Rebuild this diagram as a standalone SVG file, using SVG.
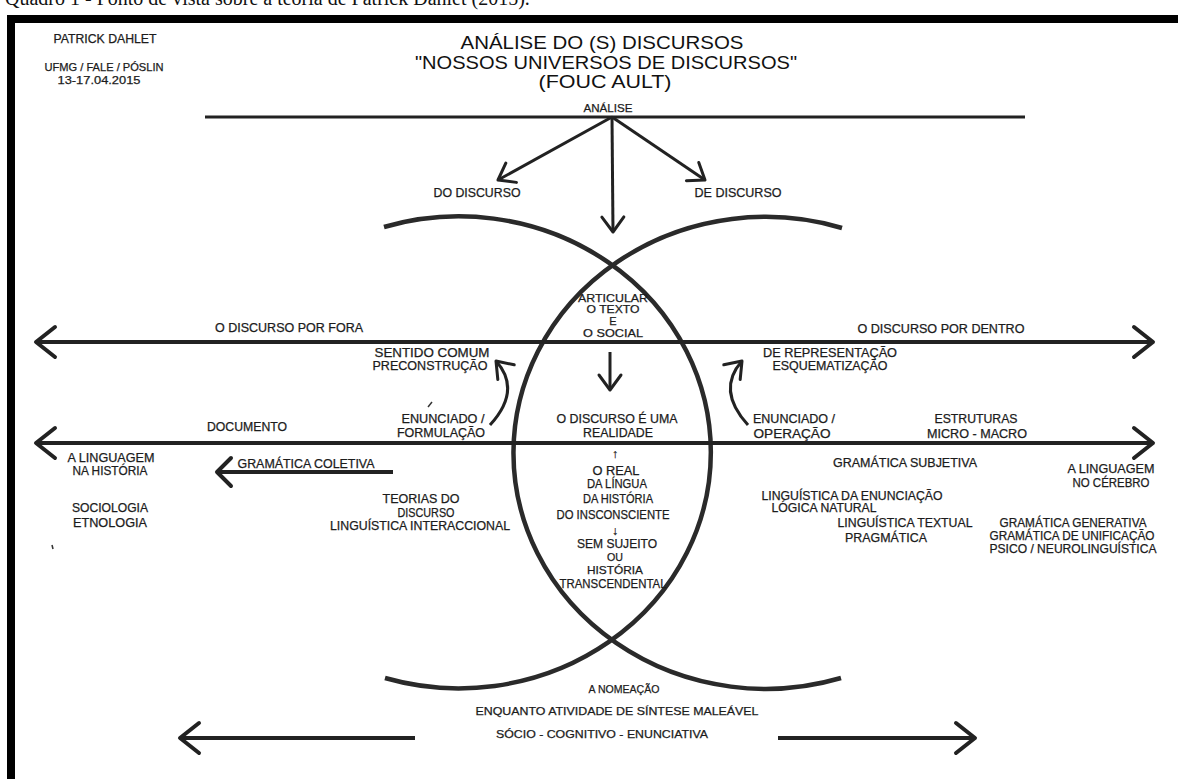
<svg xmlns="http://www.w3.org/2000/svg" width="1178" height="779" viewBox="0 0 1178 779">
<style>
  .t { font-family: "Liberation Sans", Arial, sans-serif; font-size: 12px; fill: #1c1c1c; stroke: #1c1c1c; stroke-width: 0.25; text-anchor: middle; }
  .s { font-size: 11px; }
  .title { font-family: "Liberation Sans", Arial, sans-serif; font-size: 19px; fill: #111; text-anchor: middle; }
  .cap { font-family: "Liberation Serif", "Times New Roman", serif; font-size: 20px; fill: #111; }
  .ln { stroke: #222; fill: none; stroke-width: 4; }
  .thin { stroke: #222; fill: none; stroke-width: 3; }
  .arc { stroke: #2a2a2a; fill: none; stroke-width: 4.5; }
  .mk { stroke: #222; fill: none; stroke-linecap: round; stroke-linejoin: round; }
</style>
<defs>
  <marker id="ah" markerUnits="userSpaceOnUse" viewBox="-22 -18 26 36" refX="0" refY="0" markerWidth="26" markerHeight="36" orient="auto-start-reverse" overflow="visible">
    <path class="mk" d="M-19,-15 L0,0 L-19,15" stroke-width="4"/>
  </marker>
  <marker id="ahm" markerUnits="userSpaceOnUse" viewBox="-18 -18 22 36" refX="0" refY="0" markerWidth="22" markerHeight="36" orient="auto-start-reverse" overflow="visible">
    <path class="mk" d="M-14,-14 L0,0 L-14,14" stroke-width="4"/>
  </marker>
  <marker id="ahs" markerUnits="userSpaceOnUse" viewBox="-18 -14 22 28" refX="0" refY="0" markerWidth="22" markerHeight="28" orient="auto" overflow="visible">
    <path class="mk" d="M-15,-11 L0,0 L-15,11" stroke-width="3"/>
  </marker>
</defs>
<rect x="0" y="0" width="1178" height="779" fill="#fff"/>
<text class="cap" x="5" y="5">Quadro 1 - Ponto de vista sobre a teoria de Patrick Dahlet (2015).</text>
<rect x="11" y="19" width="1200" height="800" fill="none" stroke="#000" stroke-width="8"/>

<g id="header">
  <text class="t" x="105" y="43" textLength="103" lengthAdjust="spacingAndGlyphs">PATRICK DAHLET</text>
  <text class="t s" x="104" y="71" textLength="119" lengthAdjust="spacingAndGlyphs">UFMG / FALE / PÓSLIN</text>
  <text class="t s" x="99" y="84" textLength="83" lengthAdjust="spacingAndGlyphs">13-17.04.2015</text>
</g>
<g id="title">
  <text class="title" x="602" y="49" textLength="283" lengthAdjust="spacingAndGlyphs">ANÁLISE DO (S) DISCURSOS</text>
  <text class="title" x="606" y="69" textLength="382" lengthAdjust="spacingAndGlyphs">"NOSSOS UNIVERSOS DE DISCURSOS"</text>
  <text class="title" x="605" y="88" textLength="133" lengthAdjust="spacingAndGlyphs">(FOUC AULT)</text>
</g>

<g id="connectors">
  <line class="thin" x1="205" y1="117" x2="1025" y2="117"/>
  <line class="thin" x1="612" y1="117" x2="498" y2="180" marker-end="url(#ahs)"/>
  <line class="thin" x1="612" y1="117" x2="613" y2="232" marker-end="url(#ahs)"/>
  <line class="thin" x1="612" y1="117" x2="705" y2="180" marker-end="url(#ahs)"/>
  <path class="arc" d="M 384 227 A 252 236 0 1 1 385 678"/>
  <path class="arc" d="M 842 228 A 252 236 0 1 0 841 678"/>
  <line class="ln" x1="36" y1="342" x2="1153" y2="342" marker-start="url(#ah)" marker-end="url(#ah)"/>
  <line class="ln" x1="36" y1="443" x2="1153" y2="443" marker-start="url(#ah)" marker-end="url(#ah)"/>
  <line class="thin" x1="610" y1="352" x2="610" y2="390" marker-end="url(#ahs)"/>
  <path class="thin" d="M 490 425 Q 522 390 496 361" marker-end="url(#ahs)"/>
  <path class="thin" d="M 748 425 Q 716 390 742 361" marker-end="url(#ahs)"/>
  <line class="ln" x1="393" y1="472" x2="217" y2="472" marker-end="url(#ahm)"/>
  <line class="ln" x1="415" y1="738" x2="180" y2="738" marker-end="url(#ah)"/>
  <line class="ln" x1="778" y1="738" x2="975" y2="738" marker-end="url(#ah)"/>
  <line stroke="#333" stroke-width="1.5" x1="428" y1="407" x2="432" y2="402"/>
  <line stroke="#333" stroke-width="1.5" x1="52" y1="545" x2="53" y2="549"/>
</g>

<g id="analise">
  <text class="t s" x="608" y="112" textLength="49" lengthAdjust="spacingAndGlyphs">ANÁLISE</text>
</g>
<g id="do-discurso"><text class="t" x="477" y="197" textLength="87" lengthAdjust="spacingAndGlyphs">DO DISCURSO</text></g>
<g id="de-discurso"><text class="t" x="738" y="197" textLength="87" lengthAdjust="spacingAndGlyphs">DE DISCURSO</text></g>

<g id="articular">
  <text class="t s" x="613" y="302" textLength="70" lengthAdjust="spacingAndGlyphs">ARTICULAR</text>
  <text class="t s" x="613" y="313" textLength="53" lengthAdjust="spacingAndGlyphs">O TEXTO</text>
  <text class="t s" x="613" y="325">E</text>
  <text class="t s" x="613" y="337" textLength="60" lengthAdjust="spacingAndGlyphs">O SOCIAL</text>
</g>

<g id="por-fora"><text class="t" x="289" y="332" textLength="148" lengthAdjust="spacingAndGlyphs">O DISCURSO POR FORA</text></g>
<g id="por-dentro"><text class="t" x="941" y="333" textLength="167" lengthAdjust="spacingAndGlyphs">O DISCURSO POR DENTRO</text></g>

<g id="sentido-comum">
  <text class="t" x="432" y="357" textLength="115" lengthAdjust="spacingAndGlyphs">SENTIDO COMUM</text>
  <text class="t" x="430" y="370" textLength="115" lengthAdjust="spacingAndGlyphs">PRECONSTRUÇÃO</text>
</g>
<g id="representacao">
  <text class="t" x="830" y="357" textLength="134" lengthAdjust="spacingAndGlyphs">DE REPRESENTAÇÃO</text>
  <text class="t" x="830" y="370" textLength="115" lengthAdjust="spacingAndGlyphs">ESQUEMATIZAÇÃO</text>
</g>

<g id="formulacao">
  <text class="t" x="443" y="423" textLength="83" lengthAdjust="spacingAndGlyphs">ENUNCIADO /</text>
  <text class="t" x="441" y="437" textLength="88" lengthAdjust="spacingAndGlyphs">FORMULAÇÃO</text>
</g>
<g id="realidade">
  <text class="t" x="617" y="423" textLength="121" lengthAdjust="spacingAndGlyphs">O DISCURSO É UMA</text>
  <text class="t" x="618" y="437" textLength="70" lengthAdjust="spacingAndGlyphs">REALIDADE</text>
</g>
<g id="operacao">
  <text class="t" x="794" y="423" textLength="82" lengthAdjust="spacingAndGlyphs">ENUNCIADO /</text>
  <text class="t" x="792" y="438" textLength="77" lengthAdjust="spacingAndGlyphs">OPERAÇÃO</text>
</g>
<g id="documento"><text class="t" x="247" y="431" textLength="80" lengthAdjust="spacingAndGlyphs">DOCUMENTO</text></g>
<g id="estruturas">
  <text class="t" x="976" y="423" textLength="83" lengthAdjust="spacingAndGlyphs">ESTRUTURAS</text>
  <text class="t" x="977" y="438" textLength="100" lengthAdjust="spacingAndGlyphs">MICRO - MACRO</text>
</g>

<g id="linguagem-historia">
  <text class="t" x="111" y="462" textLength="87" lengthAdjust="spacingAndGlyphs">A LINGUAGEM</text>
  <text class="t" x="110" y="475" textLength="75" lengthAdjust="spacingAndGlyphs">NA HISTÓRIA</text>
  <text class="t" x="110" y="512" textLength="76" lengthAdjust="spacingAndGlyphs">SOCIOLOGIA</text>
  <text class="t" x="110" y="527" textLength="74" lengthAdjust="spacingAndGlyphs">ETNOLOGIA</text>
</g>
<g id="gramatica-coletiva"><text class="t" x="306" y="468" textLength="137" lengthAdjust="spacingAndGlyphs">GRAMÁTICA COLETIVA</text></g>
<g id="teorias">
  <text class="t" x="421" y="503" textLength="77" lengthAdjust="spacingAndGlyphs">TEORIAS DO</text>
  <text class="t" x="426" y="517" textLength="57" lengthAdjust="spacingAndGlyphs">DISCURSO</text>
  <text class="t" x="420" y="530" textLength="180" lengthAdjust="spacingAndGlyphs">LINGUÍSTICA INTERACCIONAL</text>
</g>

<g id="o-real">
  <text class="t" x="615" y="458" font-family="DejaVu Sans, sans-serif" font-size="11">↑</text>
  <text class="t" x="616" y="475" textLength="47" lengthAdjust="spacingAndGlyphs">O REAL</text>
  <text class="t" x="617" y="488" textLength="60" lengthAdjust="spacingAndGlyphs">DA LÍNGUA</text>
  <text class="t" x="618" y="503" textLength="70" lengthAdjust="spacingAndGlyphs">DA HISTÓRIA</text>
  <text class="t" x="613" y="519" textLength="113" lengthAdjust="spacingAndGlyphs">DO INSCONSCIENTE</text>
  <text class="t" x="615" y="535" font-family="DejaVu Sans, sans-serif" font-size="11">↓</text>
  <text class="t" x="617" y="548" textLength="80" lengthAdjust="spacingAndGlyphs">SEM SUJEITO</text>
  <text class="t s" x="615" y="561" textLength="16" lengthAdjust="spacingAndGlyphs">OU</text>
  <text class="t s" x="615" y="574" textLength="56" lengthAdjust="spacingAndGlyphs">HISTÓRIA</text>
  <text class="t" x="613" y="588" textLength="107" lengthAdjust="spacingAndGlyphs">TRANSCENDENTAL</text>
</g>

<g id="gramatica-subjetiva"><text class="t" x="905" y="467" textLength="144" lengthAdjust="spacingAndGlyphs">GRAMÁTICA SUBJETIVA</text></g>
<g id="linguagem-cerebro">
  <text class="t" x="1111" y="473" textLength="87" lengthAdjust="spacingAndGlyphs">A LINGUAGEM</text>
  <text class="t" x="1111" y="487" textLength="77" lengthAdjust="spacingAndGlyphs">NO CÉREBRO</text>
</g>
<g id="enunciacao">
  <text class="t" x="852" y="500" textLength="181" lengthAdjust="spacingAndGlyphs">LINGUÍSTICA DA ENUNCIAÇÃO</text>
  <text class="t" x="824" y="512" textLength="105" lengthAdjust="spacingAndGlyphs">LÓGICA NATURAL</text>
  <text class="t" x="905" y="527" textLength="135" lengthAdjust="spacingAndGlyphs">LINGUÍSTICA TEXTUAL</text>
  <text class="t" x="886" y="542" textLength="82" lengthAdjust="spacingAndGlyphs">PRAGMÁTICA</text>
</g>
<g id="generativa">
  <text class="t" x="1073" y="527" textLength="147" lengthAdjust="spacingAndGlyphs">GRAMÁTICA GENERATIVA</text>
  <text class="t" x="1072" y="540" textLength="165" lengthAdjust="spacingAndGlyphs">GRAMÁTICA DE UNIFICAÇÃO</text>
  <text class="t" x="1073" y="553" textLength="167" lengthAdjust="spacingAndGlyphs">PSICO / NEUROLINGUÍSTICA</text>
</g>

<g id="nomeacao">
  <text class="t s" x="624" y="693" textLength="71" lengthAdjust="spacingAndGlyphs">A NOMEAÇÃO</text>
  <text class="t s" x="617" y="715" textLength="283" lengthAdjust="spacingAndGlyphs">ENQUANTO ATIVIDADE DE SÍNTESE MALEÁVEL</text>
  <text class="t s" x="602" y="738" textLength="212" lengthAdjust="spacingAndGlyphs">SÓCIO - COGNITIVO - ENUNCIATIVA</text>
</g>
</svg>
